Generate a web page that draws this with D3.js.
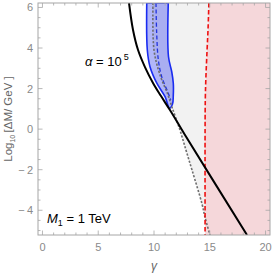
<!DOCTYPE html>
<html><head><meta charset="utf-8">
<script src="https://cdn.jsdelivr.net/npm/d3@7"></script>
<style>body{margin:0;background:#fff}svg{display:block}</style>
</head><body>
<script>
const xTicks = [0, 5, 10, 15, 20];
const yTicks = [-4, -2, 0, 2, 4, 6];
const xDomain = [-0.4, 20.4];
const yDomain = [-5.22, 6.22];

// black solid boundary (alpha = 1e5)
const blackLine = [[7.76,6.22],[8.12,4.89],[8.57,3.90],[9.19,3.06],[9.91,2.28],[10.63,1.63],[11.43,0.94],[12.78,-0.29],[18.34,-5.22]];
// red dashed boundary
const redLine = [[14.92,6.22],[14.85,5.0],[14.75,3.8],[14.65,2.5],[14.6,1.5],[14.58,0],[14.58,-5.22]];
// gray dotted boundary
const grayLine = [[9.91,6.22],[10.0,3.9],[10.54,2.67],[11.26,1.68],[11.61,1.09],[12.33,-0.05],[12.87,-1.04],[13.41,-2.02],[14.31,-3.7],[14.57,-4.34],[15.02,-5.22]];
// blue region boundary
const blueRegion = [[9.35,6.22],[9.40,3.90],[9.64,3.08],[10.24,2.28],[10.99,1.60],[11.39,1.03],[11.66,1.24],[11.73,1.68],[11.73,2.26],[11.59,2.83],[11.30,3.57],[11.28,6.22]];
// blue dashed line
const blueDashed = [[10.18,6.22],[10.24,4.74],[10.39,3.41],[10.69,2.59],[11.28,1.77],[11.5,1.44]];

const W = 274, H = 273;
const L = 38, R = 270, T = 3, B = 235;
const svg = d3.select("body").append("svg").attr("width", W).attr("height", H)
  .style("font-family", "'Liberation Sans', Arial, sans-serif");
const x = d3.scaleLinear().domain(xDomain).range([L, R]);
const y = d3.scaleLinear().domain(yDomain).range([B, T]);

svg.append("clipPath").attr("id","clip").append("rect")
  .attr("x", L).attr("y", T).attr("width", R-L).attr("height", B-T);
const g = svg.append("g").attr("clip-path","url(#clip)");

const line = d3.line().x(d => x(d[0])).y(d => y(d[1])).curve(d3.curveCatmullRom.alpha(0.5));
const lin = d3.line().x(d => x(d[0])).y(d => y(d[1]));

// gray region: between gray dotted line and red line
const grayPoly = grayLine.concat(redLine.slice().reverse());
g.append("path").attr("d", lin(grayPoly)).attr("fill", "#f2f2f2");
// pink region: red line to right edge
const pinkPoly = redLine.concat([[xDomain[1], yDomain[0]], [xDomain[1], yDomain[1]]]);
g.append("path").attr("d", lin(pinkPoly)).attr("fill", "#f5d7da");

// blue region
g.append("path").attr("d", line(blueRegion) + "Z").attr("fill", "rgba(70,80,240,0.42)")
  .attr("stroke", "#1a2cf0").attr("stroke-width", 1.6);
g.append("path").attr("d", line(blueDashed)).attr("fill", "none")
  .attr("stroke", "#2233dd").attr("stroke-width", 1.3).attr("stroke-dasharray", "4,2.5");

// gray dotted
g.append("path").attr("d", line(grayLine)).attr("fill", "none")
  .attr("stroke", "#6e6e6e").attr("stroke-width", 1.6).attr("stroke-dasharray", "2.2,1.6");
// red dashed
g.append("path").attr("d", line(redLine)).attr("fill", "none")
  .attr("stroke", "#ee1111").attr("stroke-width", 1.6).attr("stroke-dasharray", "4.5,2.5");
// black
g.append("path").attr("d", line(blackLine)).attr("fill", "none")
  .attr("stroke", "#000").attr("stroke-width", 2);

// frame
svg.append("rect").attr("x", L).attr("y", T).attr("width", R-L).attr("height", B-T)
  .attr("fill", "none").attr("stroke", "#a6a6a6").attr("stroke-width", 1);

const tickCol = "#a6a6a6";
const xMinor = d3.range(0, 21, 1).filter(v => !xTicks.includes(v));
const yMinor = d3.range(-5, 6.01, 0.5).filter(v => !yTicks.includes(v));
const tk = svg.append("g").attr("stroke", tickCol).attr("stroke-width", 0.8);
xTicks.forEach(v => {
  tk.append("line").attr("x1", x(v)).attr("x2", x(v)).attr("y1", B).attr("y2", B-4.5);
  tk.append("line").attr("x1", x(v)).attr("x2", x(v)).attr("y1", T).attr("y2", T+4.5);
});
xMinor.forEach(v => {
  tk.append("line").attr("x1", x(v)).attr("x2", x(v)).attr("y1", B).attr("y2", B-2.5);
  tk.append("line").attr("x1", x(v)).attr("x2", x(v)).attr("y1", T).attr("y2", T+2.5);
});
yTicks.forEach(v => {
  tk.append("line").attr("x1", L).attr("x2", L+4.5).attr("y1", y(v)).attr("y2", y(v));
  tk.append("line").attr("x1", R).attr("x2", R-4.5).attr("y1", y(v)).attr("y2", y(v));
});
yMinor.forEach(v => {
  tk.append("line").attr("x1", L).attr("x2", L+2.5).attr("y1", y(v)).attr("y2", y(v));
  tk.append("line").attr("x1", R).attr("x2", R-2.5).attr("y1", y(v)).attr("y2", y(v));
});

const labCol = "#8a8a8a";
xTicks.forEach(v => {
  svg.append("text").attr("x", x(v)).attr("y", B+16).attr("text-anchor","middle")
    .attr("font-size", 11).attr("fill", labCol).text(v);
});
yTicks.forEach(v => {
  svg.append("text").attr("x", L-5).attr("y", y(v)+4).attr("text-anchor","end")
    .attr("font-size", 11).attr("fill", labCol).text(v < 0 ? "\u2212\u2009" + (-v) : v);
});

// axis labels
svg.append("text").attr("x", x(10)).attr("y", 270).attr("text-anchor","middle")
  .attr("font-size", 12).attr("font-style","italic").attr("fill", "#666").text("γ");
const yl = svg.append("text").attr("transform", "translate(12,119) rotate(-90)")
  .attr("text-anchor","middle").attr("font-size", 11.5).attr("fill", "#666");
yl.append("tspan").text("Log");
yl.append("tspan").attr("font-size", 7).attr("dy", 2.5).text("10");
yl.append("tspan").attr("dy", -2.5).text("\u2009[ΔM/ GeV ]");

// annotations
const a = svg.append("text").attr("x", 85).attr("y", 65.5).attr("font-size", 13).attr("fill", "#000");
a.append("tspan").attr("font-style","italic").text("α");
a.append("tspan").text(" = 10");
a.append("tspan").attr("font-size", 9).attr("dy", -6).attr("dx", 2).text("5");

const m = svg.append("text").attr("x", 47).attr("y", 223).attr("font-size", 13).attr("fill", "#000");
m.append("tspan").attr("font-style","italic").text("M");
m.append("tspan").attr("font-size", 9).attr("dy", 3).text("1");
m.append("tspan").attr("dy", -3).text(" = 1 TeV");
</script>
</body></html>
